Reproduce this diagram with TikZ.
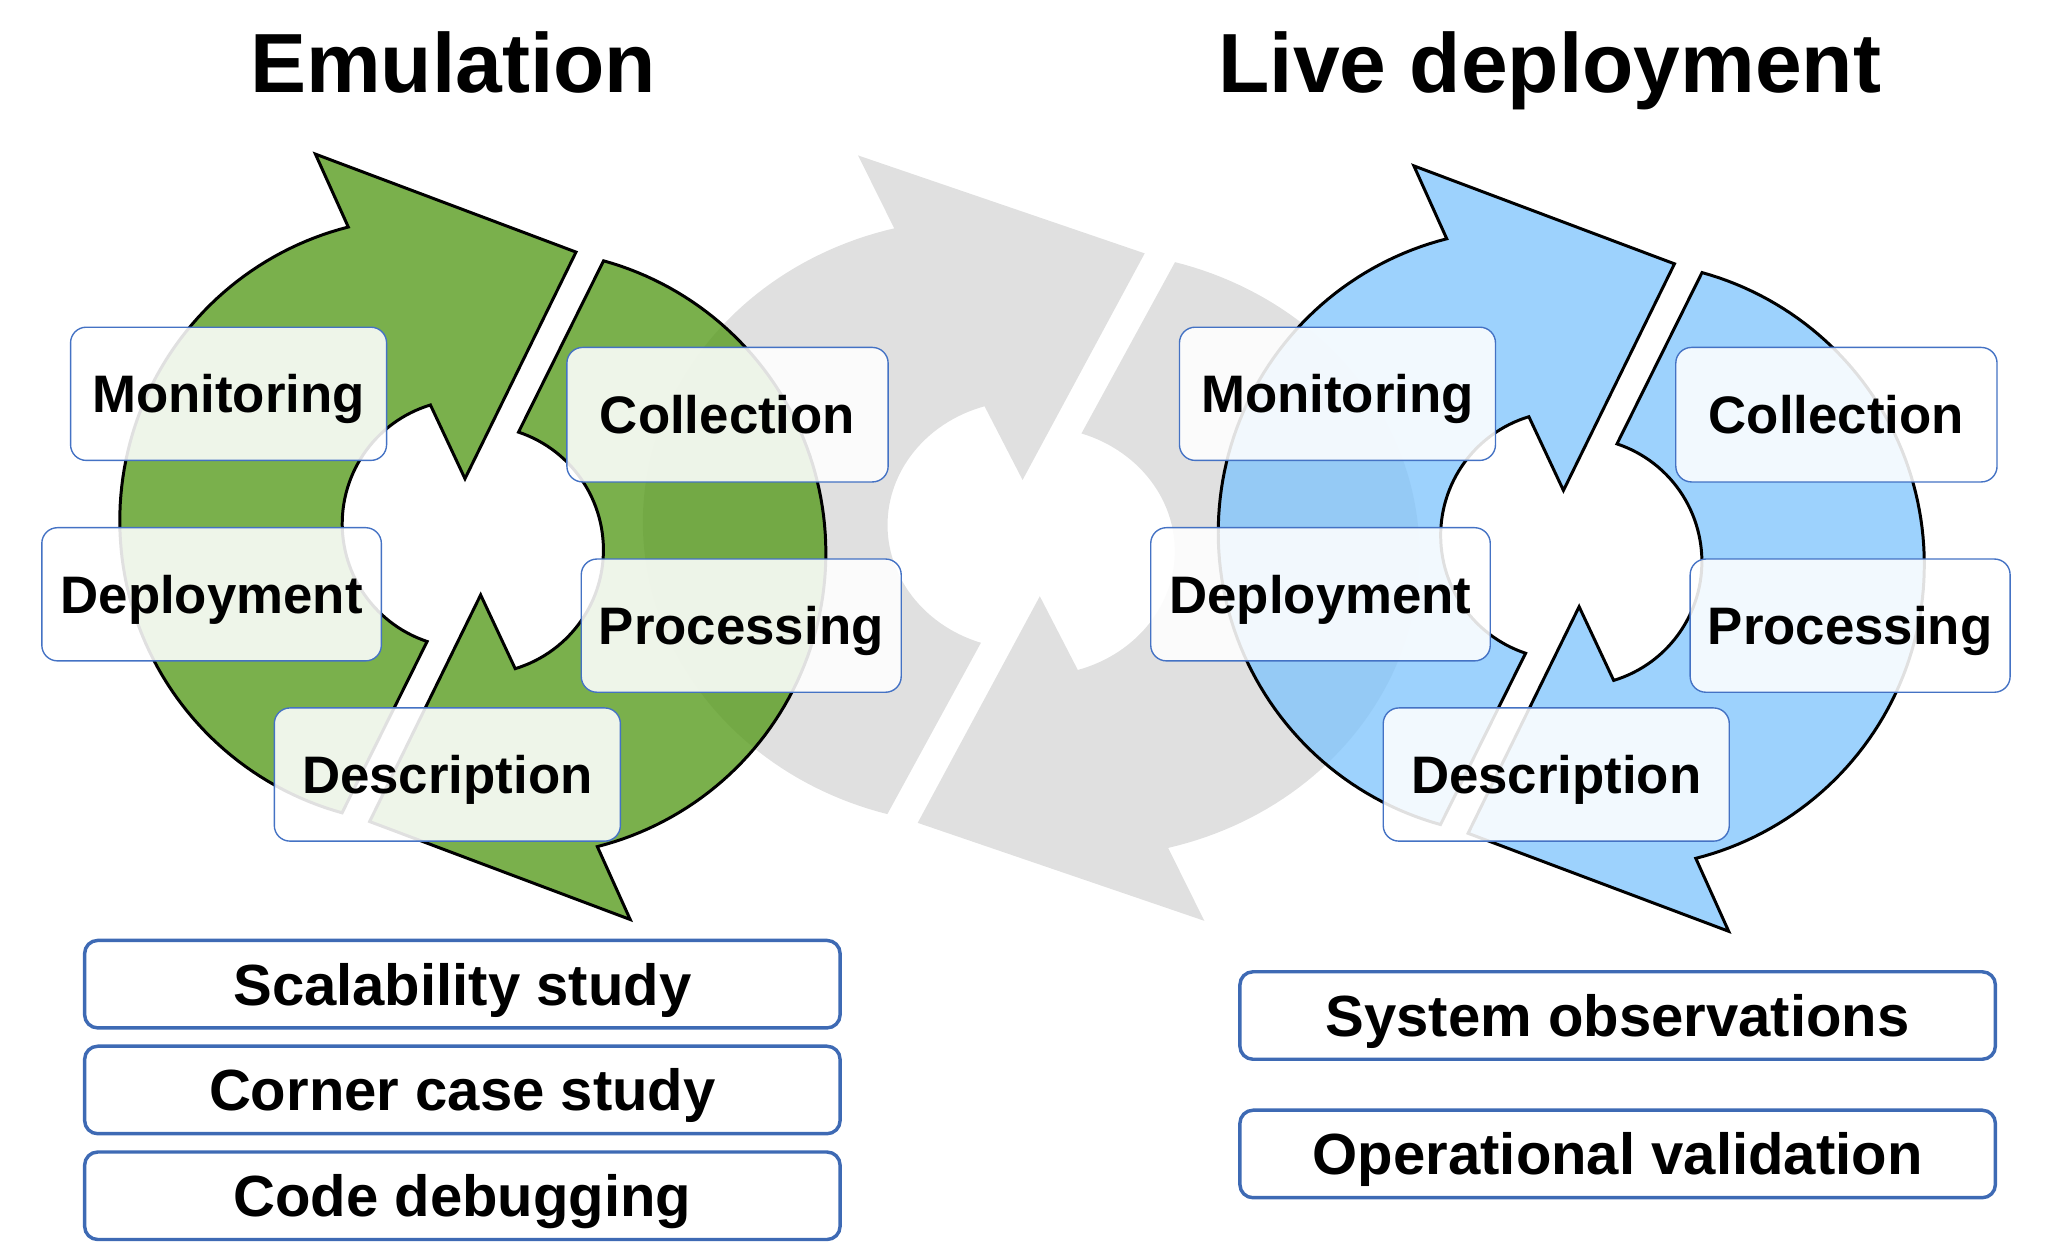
\documentclass[tikz,border=0pt]{standalone}
\usepackage{fontspec}
\setmainfont{Liberation Sans}

\definecolor{emugreen}{RGB}{85,154,26}
\definecolor{liveblue}{RGB}{129,197,252}
\definecolor{ringgray}{RGB}{224,224,224}
\definecolor{boxblue}{RGB}{68,114,196}
\definecolor{tagblue}{RGB}{62,106,180}

\tikzset{
  % one half of a cycle: outer arc, arrow head, inner arc, square tail
  halfcycle/.style={insert path={
    plot[domain=0:1,samples=90,variable=\t]
      ({323.7+232*cos(105.45+150.39*\t)},{398.7+232*sin(105.45+150.39*\t)})
    -- (241.5,118) -- (441,193) -- (356,366.5)
    -- plot[domain=0:1,samples=60,variable=\t]
      ({357+95*cos(253.2-144.9*\t)},{401+95*sin(253.2-144.9*\t)})
    -- cycle}},
  emuring/.style={fill=emugreen, fill opacity=0.78, draw=black, line width=1.3pt, line join=miter},
  livering/.style={fill=liveblue, fill opacity=0.78, draw=black, line width=1.3pt, line join=miter},
  shadowring/.style={fill=ringgray},
  stagebox/.style={draw=boxblue, line width=0.6pt, fill=white, fill opacity=0.88, text opacity=1,
    rounded corners=0.24cm, inner sep=0pt, minimum height=2.04cm,
    text height=0.58cm, text depth=0pt, font=\fontsize{23}{28}\selectfont\bfseries},
  usebox/.style={draw=tagblue, line width=1.5pt, fill=white, rounded corners=0.2cm,
    minimum width=11.57cm, minimum height=1.34cm, inner sep=0pt,
    text height=0.64cm, text depth=0pt, font=\fontsize{25.3}{30}\selectfont\bfseries},
  headline/.style={anchor=base, inner sep=0pt, font=\fontsize{36.6}{44}\selectfont\bfseries}
}

\begin{document}
\begin{tikzpicture}[x=0.02cm, y=-0.02cm]
\useasboundingbox (0,0) rectangle (1568,952);

% wide grey cycle linking both sides
\begin{scope}[shift={(789.5,412)}, xscale=1.1, shift={(-362,-411)}]
  \path[shadowring, halfcycle];
  \path[shadowring, rotate around={180:(362,411)}, halfcycle];
\end{scope}

% emulation cycle
\path[emuring, halfcycle];
\path[emuring, rotate around={180:(362,411)}, halfcycle];

% live deployment cycle
\begin{scope}[shift={(841,9)}]
  \path[livering, halfcycle];
  \path[livering, rotate around={180:(362,411)}, halfcycle];
\end{scope}

% titles
\node[headline] (emutitle) at (347,71) {Emulation};
\node[headline] (livetitle) at (1186.5,71) {Live deployment};

% stages of the emulation cycle
\node[stagebox, minimum width=4.84cm] (emumon) at (175,301.5) {Monitoring};
\node[stagebox, minimum width=4.92cm, minimum height=2.06cm] (emucol) at (557,317.5) {Collection};
\node[stagebox, minimum width=5.2cm] (emudep) at (162,455) {Deployment};
\node[stagebox, minimum width=4.9cm] (emupro) at (567.5,479) {Processing};
\node[stagebox, minimum width=5.3cm] (emudes) at (342.5,593) {Description};

% stages of the live cycle
\node[stagebox, minimum width=4.84cm] (livemon) at (1024,301.5) {Monitoring};
\node[stagebox, minimum width=4.92cm, minimum height=2.06cm] (livecol) at (1406,317.5) {Collection};
\node[stagebox, minimum width=5.2cm] (livedep) at (1011,455) {Deployment};
\node[stagebox, minimum width=4.9cm] (livepro) at (1416.5,479) {Processing};
\node[stagebox, minimum width=5.3cm] (livedes) at (1191.5,593) {Description};

% uses of each approach
\node[usebox] (scal) at (354,753.5) {Scalability study};
\node[usebox] (corner) at (354,834.5) {Corner case study};
\node[usebox] (debug) at (354,915.5) {Code debugging};
\node[usebox] (obs) at (1238.5,777.5) {System observations};
\node[usebox] (valid) at (1238.5,883.5) {Operational validation};
\end{tikzpicture}
\end{document}
